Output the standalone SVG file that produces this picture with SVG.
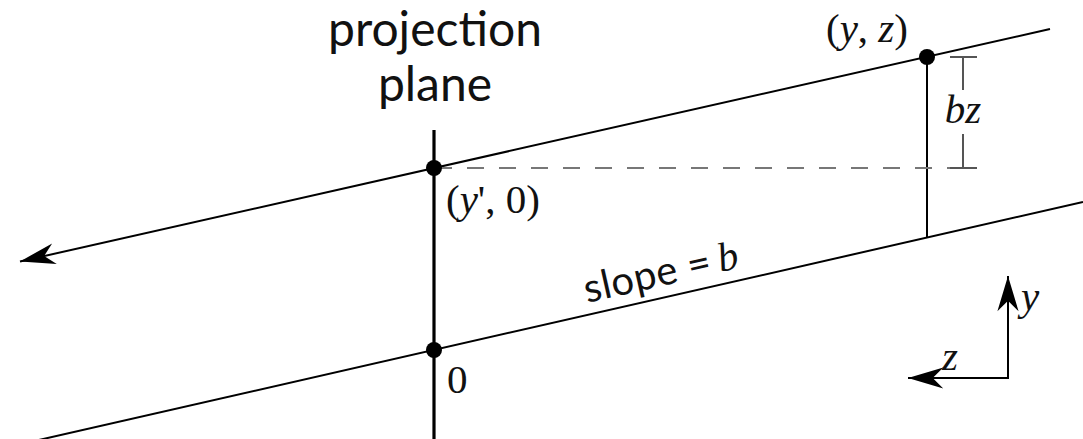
<svg xmlns="http://www.w3.org/2000/svg" width="1083" height="439" viewBox="0 0 1083 439">
  <style>
    .ln { stroke: #000; fill: none; stroke-width: 2; }
    .thick { stroke: #000; fill: none; stroke-width: 3.2; }
    .dash { stroke: #777; fill: none; stroke-width: 2.2; stroke-dasharray: 17 15; }
    .dim { stroke: #555; fill: none; stroke-width: 2; }
    .dot { fill: #000; }
    .serif { font-family: "Liberation Serif", "Times New Roman", serif; font-size: 41px; fill: #111; }
    .it { font-style: italic; }
    .sans { font-family: Lato, "Open Sans", sans-serif; fill: #111; }
  </style>
  <defs>
    <marker id="arr" markerUnits="userSpaceOnUse" markerWidth="40" markerHeight="30" refX="0" refY="0" viewBox="-32 -12 34 24" orient="auto" overflow="visible">
      <path d="M0,0 L-30,-9 L-21,0 L-30,9 Z" fill="#000"/>
    </marker>
  </defs>

  <g id="connectors">
    <path class="ln" d="M1050,29 L20,261.5" marker-end="url(#arr)"/>
    <path class="ln" d="M1083,202 L30,442"/>
    <path class="thick" d="M434,130 L434,439"/>
    <path class="ln" d="M927,57 L927,238"/>
    <path class="dash" d="M435,168 L977,168"/>
  </g>

  <g id="dimension-bz">
    <path class="dim" d="M950,57 L977,57 M963,57 L963,90 M963,134 L963,168 M950,168 L977,168"/>
    <text class="serif it" x="963" y="123" text-anchor="middle">bz</text>
  </g>

  <g id="projection-plane-label">
    <text class="sans" x="435" y="46" font-size="48" text-anchor="middle">projection</text>
    <text class="sans" x="435" y="101" font-size="48" text-anchor="middle">plane</text>
  </g>

  <g id="point-yz">
    <circle class="dot" cx="927" cy="57" r="8"/>
    <text class="serif" x="826" y="42">(<tspan class="it">y</tspan>, <tspan class="it">z</tspan>)</text>
  </g>

  <g id="point-y0">
    <circle class="dot" cx="434" cy="168" r="8"/>
    <text class="serif" x="446" y="213">(<tspan class="it">y</tspan>', 0)</text>
  </g>

  <g id="point-origin">
    <circle class="dot" cx="434" cy="350" r="8"/>
    <text class="serif" x="447" y="393">0</text>
  </g>

  <g id="slope-label" transform="translate(587,303) rotate(-12.7)">
    <text class="sans" x="0" y="0" font-size="40" letter-spacing="0.5">slope =</text>
    <text class="serif it" x="137" y="-1" font-size="44">b</text>
  </g>

  <g id="axes">
    <path class="ln" stroke-width="2.5" d="M1008,378 L1008,276" marker-end="url(#arr)"/>
    <path class="ln" stroke-width="2.5" d="M1009,378 L908,378" marker-end="url(#arr)"/>
    <text class="serif it" x="1021" y="310">y</text>
    <text class="serif it" x="942" y="370">z</text>
  </g>
</svg>
